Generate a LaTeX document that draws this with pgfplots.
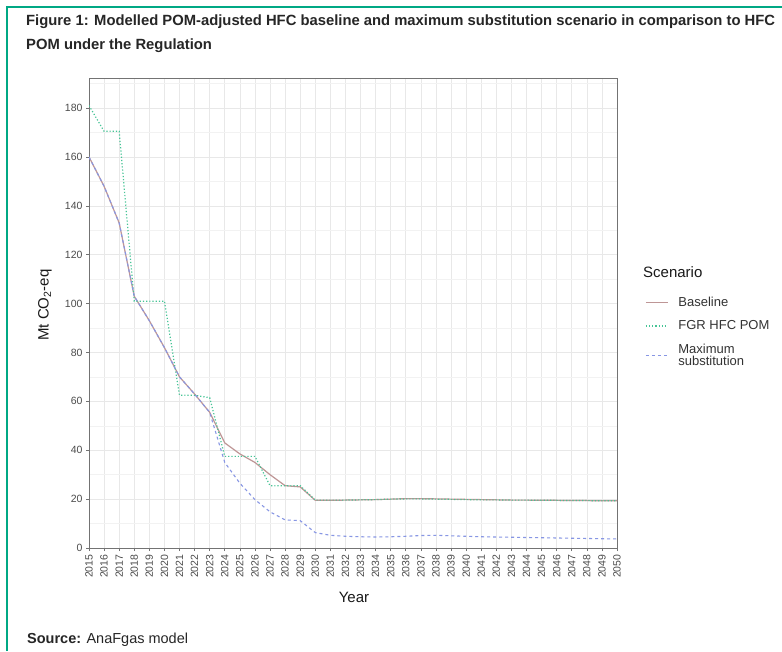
\documentclass[border=0pt]{standalone}
\usepackage{pgfplots}
\pgfplotsset{compat=1.18}
\usepackage{pgfplotstable}
\usepackage{fontspec}
\setmainfont{Liberation Sans}
\definecolor{frameg}{RGB}{0,168,132}
\definecolor{cbase}{RGB}{190,150,150}
\definecolor{cfgr}{RGB}{70,196,150}
\definecolor{cmax}{RGB}{135,150,228}

\pgfplotstableread{
year base fgr maxs
2015 160 181 160
2016 148 170.5 148
2017 133 170.5 133
2018 103 101 103
2019 93 101 93
2020 82 101 82
2021 70 62.5 70
2022 63 62.5 63
2023 55.5 61.5 55.5
2024 43 37.5 35
2025 38.5 37.5 26.5
2026 35 37.5 19.8
2027 30 25.5 14.8
2028 25.5 25.5 11.5
2029 25 25.5 11.2
2030 19.5 19.6 6.3
2031 19.5 19.6 5.2
2032 19.6 19.6 4.8
2033 19.7 19.7 4.6
2034 19.8 19.8 4.5
2035 20 20 4.6
2036 20.2 20.1 4.8
2037 20.2 20.1 5.1
2038 20.1 20 5.2
2039 20 19.9 5
2040 19.9 19.8 4.8
2041 19.8 19.7 4.6
2042 19.7 19.7 4.5
2043 19.6 19.6 4.4
2044 19.6 19.6 4.3
2045 19.5 19.5 4.2
2046 19.5 19.5 4.1
2047 19.4 19.4 4
2048 19.4 19.4 3.9
2049 19.3 19.3 3.8
2050 19.3 19.3 3.7
}\datatable

\begin{document}
\begin{tikzpicture}[x=1pt,y=1pt]
\useasboundingbox (0,0) rectangle (782,-651);
\clip (0,0) rectangle (782,-651);
\fill[white] (0,0) rectangle (782,-651);
\draw[frameg, line width=2.5pt] (7,-651) -- (7,-7) -- (782,-7);
\node[anchor=west, inner sep=0pt, font=\bfseries\fontsize{14.8}{18}\selectfont, text=black!85] at (26,-22) {Figure 1: Modelled POM-adjusted HFC baseline and maximum substitution scenario in comparison to HFC};
\node[anchor=west, inner sep=0pt, font=\bfseries\fontsize{14.8}{18}\selectfont, text=black!85] at (26,-46) {POM under the Regulation};
\node[anchor=west, inner sep=0pt, font=\fontsize{14.5}{17}\selectfont, text=black!85] at (27,-640) {\textbf{Source:} AnaFgas model};
\node[rotate=90, inner sep=0pt, font=\fontsize{15}{18}\selectfont, text=black!90] at (45,-305) {Mt CO\textsubscript{2}-eq};
\node[inner sep=0pt, font=\fontsize{15}{18}\selectfont, text=black!90] at (354,-597) {Year};
\node[anchor=west, inner sep=0pt, font=\fontsize{15}{18}\selectfont, text=black!90] at (643,-272) {Scenario};

\begin{axis}[
  at={(89pt,-548pt)}, anchor=south west,
  scale only axis, width=528pt, height=470pt,
  xmin=2015, xmax=2050, ymin=0, ymax=192.3,
  xtick={2015,2016,...,2050},
  ytick={0,20,...,180},
  minor ytick={10,30,...,190},
  xtick pos=bottom, ytick pos=left,
  grid=both,
  major grid style={color=black!9, line width=0.6pt},
  minor grid style={color=black!5, line width=0.4pt},
  axis line style={black!55, line width=0.6pt},
  tick style={black!55, line width=0.6pt},
  tick align=outside,
  major tick length=3pt, minor tick length=0pt,
  /pgf/number format/assume math mode=true,
  x tick label style={rotate=90, anchor=east, font=\fontsize{10.5}{12}\selectfont, text=black!70, /pgf/number format/1000 sep={}},
  y tick label style={font=\fontsize{10.5}{12}\selectfont, text=black!70},
  legend cell align=left,
  legend image code/.code={\draw[#1] (0pt,0pt) -- (22pt,0pt);},
  legend style={draw=none, fill=none, at={(1.053,0.537)}, anchor=north west, inner sep=0pt, row sep=11pt,
    /tikz/every odd column/.append style={column sep=9pt},
    nodes={inner sep=1pt, text=black!80, font=\fontsize{13}{12}\selectfont, align=left}},
]
\addplot[cbase, line width=1.2pt] table[x=year, y=base] {\datatable};
\addlegendentry{Baseline}
\addplot[cfgr, line width=1.2pt, dotted] table[x=year, y=fgr] {\datatable};
\addlegendentry{FGR HFC POM}
\addplot[cmax, line width=1.1pt, dashed] table[x=year, y=maxs] {\datatable};
\addlegendentry{Maximum\\substitution}
\end{axis}
\end{tikzpicture}
\end{document}
